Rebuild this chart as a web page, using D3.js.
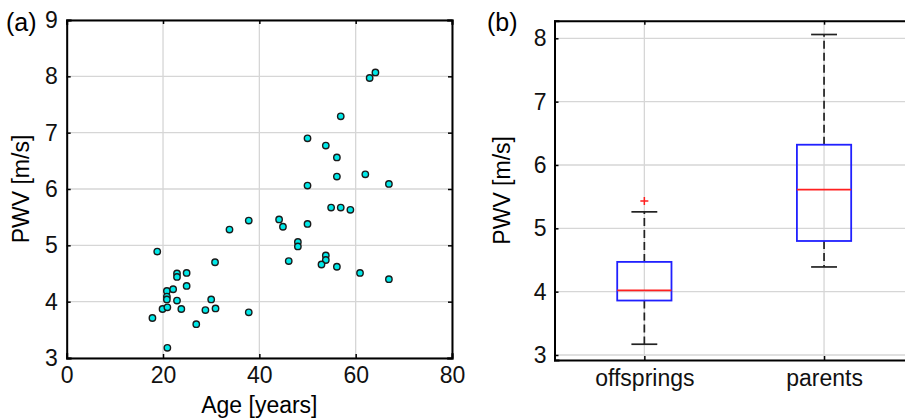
<!DOCTYPE html>
<html>
<head>
<meta charset="utf-8">
<script src="https://cdn.jsdelivr.net/npm/d3@7"></script>
<style>
  html, body { margin: 0; padding: 0; background: #fff; }
  svg { display: block; font-family: "Liberation Sans", Arial, Helvetica, sans-serif; }
</style>
</head>
<body>
<div id="chart"></div>
<script>
// (a) scatter: age vs PWV
var ageValues = [17.8, 18.8, 19.9, 20.8, 20.8, 20.8, 20.9, 20.9, 22.1, 22.9, 22.9, 22.9,
                 23.8, 24.9, 24.9, 26.9, 28.8, 30.0, 30.9, 30.8, 33.8, 37.8, 37.8,
                 64.1, 62.9, 56.9, 50.0, 53.8, 56.1, 56.1, 62.0, 50.0, 66.9, 54.9, 56.9,
                 58.9, 44.1, 44.9, 50.0, 48.0, 48.0, 46.1, 53.8, 53.8, 52.9, 56.1, 60.9, 66.9];
var pwvValues = [3.71, 4.89, 3.87, 4.19, 4.09, 4.04, 3.90, 3.18, 4.22, 4.50, 4.44, 4.02,
                 3.87, 4.51, 4.28, 3.60, 3.85, 4.04, 3.88, 4.70, 5.28, 5.44, 3.81,
                 8.07, 7.97, 7.29, 6.90, 6.77, 6.56, 6.22, 6.26, 6.06, 6.09, 5.67, 5.67,
                 5.63, 5.46, 5.33, 5.38, 5.06, 4.98, 4.72, 4.82, 4.74, 4.66, 4.62, 4.51, 4.40];
var ageTicks = [0, 20, 40, 60, 80];
var pwvTicksA = [3, 4, 5, 6, 7, 8, 9];

// (b) box plot stats
var groups = ['offsprings', 'parents'];
var whiskerLow = [3.17, 4.39];
var boxQ1 = [3.86, 4.80];
var boxMedian = [4.02, 5.61];
var boxQ3 = [4.47, 6.32];
var whiskerHigh = [5.26, 8.06];
var outliers = [[5.43], []];
var pwvTicksB = [3, 4, 5, 6, 7, 8];

var width = 905, height = 419;
var gridColor = '#d6d6d6';
var font = 23;
var fmt = d3.format('d');

var svg = d3.select('#chart').append('svg')
  .attr('width', width)
  .attr('height', height);

// ---------- panel (a) ----------
var xA = d3.scaleLinear().domain([0, 80]).range([66.7, 452]);
var yA = d3.scaleLinear().domain([3, 9]).range([358, 20]);

var gA = svg.append('g');

gA.selectAll('.vgrid').data(ageTicks).enter().append('line')
  .attr('x1', function (d) { return xA(d); })
  .attr('x2', function (d) { return xA(d); })
  .attr('y1', yA.range()[0]).attr('y2', yA.range()[1])
  .attr('stroke', gridColor).attr('stroke-width', 1.3);
gA.selectAll('.hgrid').data(pwvTicksA).enter().append('line')
  .attr('y1', function (d) { return yA(d); })
  .attr('y2', function (d) { return yA(d); })
  .attr('x1', xA.range()[0]).attr('x2', xA.range()[1])
  .attr('stroke', gridColor).attr('stroke-width', 1.3);

var bottomA = d3.axisBottom(xA).tickValues(ageTicks).tickSize(-4).tickPadding(9).tickFormat(fmt);
var leftA = d3.axisLeft(yA).tickValues(pwvTicksA).tickSize(-4).tickPadding(9).tickFormat(fmt);
var topA = d3.axisTop(xA).tickValues(ageTicks).tickSize(-4).tickFormat('');
var rightA = d3.axisRight(yA).tickValues(pwvTicksA).tickSize(-4).tickFormat('');

function styleAxis(g) {
  g.attr('font-family', null).attr('font-size', null);
  g.select('.domain').attr('stroke', '#000').attr('stroke-width', 2).attr('stroke-linecap', 'square');
  g.selectAll('.tick line').attr('stroke', '#000').attr('stroke-width', 1.5);
  g.selectAll('.tick text').attr('fill', '#111').style('font-size', font + 'px');
}

gA.append('g').attr('transform', 'translate(0,' + yA.range()[0] + ')').call(bottomA).call(styleAxis);
gA.append('g').attr('transform', 'translate(' + xA.range()[0] + ',0)').call(leftA).call(styleAxis);
gA.append('g').attr('transform', 'translate(0,' + yA.range()[1] + ')').call(topA).call(styleAxis);
gA.append('g').attr('transform', 'translate(' + xA.range()[1] + ',0)').call(rightA).call(styleAxis);

gA.selectAll('.pt').data(ageValues).enter().append('circle')
  .attr('cx', function (d) { return xA(d); })
  .attr('cy', function (d, i) { return yA(pwvValues[i]); })
  .attr('r', 3.2)
  .attr('fill', '#00e8e8')
  .attr('stroke', '#1a1a1a')
  .attr('stroke-width', 1.4);

gA.append('text')
  .attr('x', (xA.range()[0] + xA.range()[1]) / 2)
  .attr('y', 413)
  .attr('text-anchor', 'middle')
  .style('font-size', font + 'px')
  .text('Age [years]');

gA.append('text')
  .attr('transform', 'translate(29,' + (yA.range()[0] + yA.range()[1]) / 2 + ') rotate(-90)')
  .attr('text-anchor', 'middle')
  .style('font-size', font + 'px')
  .text('PWV [m/s]');

svg.append('text').attr('x', 6).attr('y', 31).style('font-size', '25px').text('(a)');

// ---------- panel (b) ----------
var xB = d3.scaleLinear().domain([0.5, 2.5]).range([554.5, 913.9]);
var yB = d3.scaleLinear().domain([2.921, 8.278]).range([360, 20.7]);
var boxHalf = 0.151, capHalf = 0.072;

var gB = svg.append('g');

gB.selectAll('.vgrid').data(groups).enter().append('line')
  .attr('x1', function (d, i) { return xB(i + 1); })
  .attr('x2', function (d, i) { return xB(i + 1); })
  .attr('y1', yB.range()[0]).attr('y2', yB.range()[1])
  .attr('stroke', gridColor).attr('stroke-width', 1.3);
gB.selectAll('.hgrid').data(pwvTicksB).enter().append('line')
  .attr('y1', function (d) { return yB(d); })
  .attr('y2', function (d) { return yB(d); })
  .attr('x1', xB.range()[0]).attr('x2', xB.range()[1])
  .attr('stroke', gridColor).attr('stroke-width', 1.3);

var bottomB = d3.axisBottom(xB).tickValues([1, 2]).tickSize(-4).tickPadding(10)
  .tickFormat(function (d) { return groups[d - 1]; });
var leftB = d3.axisLeft(yB).tickValues(pwvTicksB).tickSize(-4).tickPadding(8).tickFormat(fmt);
var topB = d3.axisTop(xB).tickValues([1, 2]).tickSize(-4).tickFormat('');
var rightB = d3.axisRight(yB).tickValues(pwvTicksB).tickSize(-4).tickFormat('');

gB.append('g').attr('transform', 'translate(0,' + yB.range()[0] + ')').call(bottomB).call(styleAxis);
gB.append('g').attr('transform', 'translate(' + xB.range()[0] + ',0)').call(leftB).call(styleAxis);
gB.append('g').attr('transform', 'translate(0,' + yB.range()[1] + ')').call(topB).call(styleAxis);
gB.append('g').attr('transform', 'translate(' + xB.range()[1] + ',0)').call(rightB).call(styleAxis);

var box = gB.selectAll('.box').data(groups).enter().append('g');

// whiskers
box.append('line')
  .attr('x1', function (d, i) { return xB(i + 1); })
  .attr('x2', function (d, i) { return xB(i + 1); })
  .attr('y1', function (d, i) { return yB(boxQ3[i]); })
  .attr('y2', function (d, i) { return yB(whiskerHigh[i]); })
  .attr('stroke', '#222').attr('stroke-width', 1.7).attr('stroke-dasharray', '8,4');
box.append('line')
  .attr('x1', function (d, i) { return xB(i + 1); })
  .attr('x2', function (d, i) { return xB(i + 1); })
  .attr('y1', function (d, i) { return yB(boxQ1[i]); })
  .attr('y2', function (d, i) { return yB(whiskerLow[i]); })
  .attr('stroke', '#222').attr('stroke-width', 1.7).attr('stroke-dasharray', '8,4');
// caps
[whiskerHigh, whiskerLow].forEach(function (arr) {
  box.append('line')
    .attr('x1', function (d, i) { return xB(i + 1 - capHalf); })
    .attr('x2', function (d, i) { return xB(i + 1 + capHalf); })
    .attr('y1', function (d, i) { return yB(arr[i]); })
    .attr('y2', function (d, i) { return yB(arr[i]); })
    .attr('stroke', '#222').attr('stroke-width', 1.7);
});
// boxes
box.append('rect')
  .attr('x', function (d, i) { return xB(i + 1 - boxHalf); })
  .attr('width', function (d, i) { return xB(i + 1 + boxHalf) - xB(i + 1 - boxHalf); })
  .attr('y', function (d, i) { return yB(boxQ3[i]); })
  .attr('height', function (d, i) { return yB(boxQ1[i]) - yB(boxQ3[i]); })
  .attr('fill', 'none').attr('stroke', '#2020ff').attr('stroke-width', 1.8);
box.append('line')
  .attr('x1', function (d, i) { return xB(i + 1 - boxHalf); })
  .attr('x2', function (d, i) { return xB(i + 1 + boxHalf); })
  .attr('y1', function (d, i) { return yB(boxMedian[i]); })
  .attr('y2', function (d, i) { return yB(boxMedian[i]); })
  .attr('stroke', '#ff2020').attr('stroke-width', 1.8);
// outliers
box.each(function (d, i) {
  d3.select(this).selectAll('.out').data(outliers[i]).enter().append('path')
    .attr('d', function (v) {
      var cx = xB(i + 1), cy = yB(v);
      return 'M' + (cx - 4) + ',' + cy + 'H' + (cx + 4) + 'M' + cx + ',' + (cy - 4) + 'V' + (cy + 4);
    })
    .attr('stroke', '#ff2020').attr('stroke-width', 1.5);
});

gB.append('text')
  .attr('transform', 'translate(510,' + (yB.range()[0] + yB.range()[1]) / 2 + ') rotate(-90)')
  .attr('text-anchor', 'middle')
  .style('font-size', font + 'px')
  .text('PWV [m/s]');

svg.append('text').attr('x', 487).attr('y', 31).style('font-size', '25px').text('(b)');
</script>
</body>
</html>
